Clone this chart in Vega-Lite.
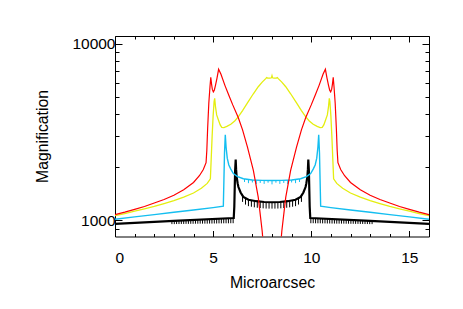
{
  "$schema": "https://vega.github.io/schema/vega-lite/v6.json",
  "width": 314,
  "height": 200.5,
  "autosize": {"type": "none"},
  "padding": {"left": 115, "top": 36, "right": 34, "bottom": 72.5},
  "background": "white",
  "config": {
    "view": {"stroke": "#000", "strokeWidth": 1},
    "axis": {
      "labelFont": "Liberation Sans",
      "titleFont": "Liberation Sans",
      "labelFontSize": 15.5,
      "titleFontSize": 15.8,
      "titleFontWeight": "normal",
      "labelColor": "#000",
      "titleColor": "#000",
      "tickColor": "#000",
      "domain": false,
      "grid": false
    }
  },
  "datasets": {
    "curves": [
      {"s":"red","x":0,"y":1080},{"s":"red","x":0.5,"y":1115},{"s":"red","x":1,"y":1155},{"s":"red","x":1.5,"y":1200},{"s":"red","x":2,"y":1255},{"s":"red","x":2.5,"y":1315},{"s":"red","x":3,"y":1390},{"s":"red","x":3.5,"y":1490},{"s":"red","x":4,"y":1640},{"s":"red","x":4.3,"y":1790},{"s":"red","x":4.5,"y":1940},{"s":"red","x":4.64,"y":2120},{"s":"red","x":4.68,"y":2500},{"s":"red","x":4.72,"y":3300},{"s":"red","x":4.78,"y":4600},{"s":"red","x":4.84,"y":5700},{"s":"red","x":4.88,"y":6450},{"s":"red","x":4.92,"y":5900},{"s":"red","x":4.96,"y":5500},{"s":"red","x":5.01,"y":5330},{"s":"red","x":5.06,"y":5450},{"s":"red","x":5.12,"y":5800},{"s":"red","x":5.2,"y":6400},{"s":"red","x":5.28,"y":7150},{"s":"red","x":5.4,"y":6700},{"s":"red","x":5.6,"y":5800},{"s":"red","x":5.8,"y":5100},{"s":"red","x":6.0,"y":4500},{"s":"red","x":6.28,"y":3820},{"s":"red","x":6.5,"y":3250},{"s":"red","x":6.75,"y":2600},{"s":"red","x":7.05,"y":1920},{"s":"red","x":7.3,"y":1350},{"s":"red","x":7.5,"y":870},{"s":"red","x":7.6,"y":640},{"s":"red","x":7.7,"y":420},{"s":"red","x":7.8,"y":250},{"s":"red","x":7.9,"y":150},{"s":"red","x":8,"y":120},
      {"s":"red","x":8.1,"y":150},{"s":"red","x":8.2,"y":250},{"s":"red","x":8.3,"y":420},{"s":"red","x":8.4,"y":640},{"s":"red","x":8.5,"y":870},{"s":"red","x":8.7,"y":1350},{"s":"red","x":8.95,"y":1920},{"s":"red","x":9.25,"y":2600},{"s":"red","x":9.5,"y":3250},{"s":"red","x":9.72,"y":3820},{"s":"red","x":10,"y":4500},{"s":"red","x":10.2,"y":5100},{"s":"red","x":10.4,"y":5800},{"s":"red","x":10.6,"y":6700},{"s":"red","x":10.72,"y":7150},{"s":"red","x":10.8,"y":6400},{"s":"red","x":10.88,"y":5800},{"s":"red","x":10.94,"y":5450},{"s":"red","x":10.99,"y":5330},{"s":"red","x":11.04,"y":5500},{"s":"red","x":11.08,"y":5900},{"s":"red","x":11.12,"y":6450},{"s":"red","x":11.16,"y":5700},{"s":"red","x":11.22,"y":4600},{"s":"red","x":11.28,"y":3300},{"s":"red","x":11.32,"y":2500},{"s":"red","x":11.36,"y":2120},{"s":"red","x":11.5,"y":1940},{"s":"red","x":11.7,"y":1790},{"s":"red","x":12,"y":1640},{"s":"red","x":12.5,"y":1490},{"s":"red","x":13,"y":1390},{"s":"red","x":13.5,"y":1315},{"s":"red","x":14,"y":1255},{"s":"red","x":14.5,"y":1200},{"s":"red","x":15,"y":1155},{"s":"red","x":15.5,"y":1115},{"s":"red","x":16,"y":1080},
      {"s":"yellow","x":0,"y":1064},{"s":"yellow","x":0.5,"y":1095},{"s":"yellow","x":1,"y":1128},{"s":"yellow","x":1.5,"y":1163},{"s":"yellow","x":2,"y":1200},{"s":"yellow","x":2.5,"y":1245},{"s":"yellow","x":3,"y":1295},{"s":"yellow","x":3.5,"y":1355},{"s":"yellow","x":4,"y":1430},{"s":"yellow","x":4.4,"y":1520},{"s":"yellow","x":4.7,"y":1620},{"s":"yellow","x":4.86,"y":1720},{"s":"yellow","x":4.9,"y":2200},{"s":"yellow","x":4.95,"y":3000},{"s":"yellow","x":5.0,"y":3900},{"s":"yellow","x":5.05,"y":4700},{"s":"yellow","x":5.08,"y":4900},{"s":"yellow","x":5.12,"y":4400},{"s":"yellow","x":5.18,"y":3950},{"s":"yellow","x":5.27,"y":3700},{"s":"yellow","x":5.36,"y":3470},{"s":"yellow","x":5.44,"y":3360},{"s":"yellow","x":5.55,"y":3350},{"s":"yellow","x":5.7,"y":3400},{"s":"yellow","x":5.9,"y":3500},{"s":"yellow","x":6.1,"y":3650},{"s":"yellow","x":6.28,"y":3850},{"s":"yellow","x":6.5,"y":4180},{"s":"yellow","x":6.75,"y":4620},{"s":"yellow","x":7.05,"y":5200},{"s":"yellow","x":7.3,"y":5700},{"s":"yellow","x":7.5,"y":6050},{"s":"yellow","x":7.68,"y":6330},{"s":"yellow","x":7.73,"y":6420},{"s":"yellow","x":7.78,"y":6380},{"s":"yellow","x":7.9,"y":6380},{"s":"yellow","x":7.97,"y":6400},{"s":"yellow","x":8,"y":6580},
      {"s":"yellow","x":8.03,"y":6400},{"s":"yellow","x":8.1,"y":6380},{"s":"yellow","x":8.22,"y":6380},{"s":"yellow","x":8.27,"y":6420},{"s":"yellow","x":8.32,"y":6330},{"s":"yellow","x":8.5,"y":6050},{"s":"yellow","x":8.7,"y":5700},{"s":"yellow","x":8.95,"y":5200},{"s":"yellow","x":9.25,"y":4620},{"s":"yellow","x":9.5,"y":4180},{"s":"yellow","x":9.72,"y":3850},{"s":"yellow","x":9.9,"y":3650},{"s":"yellow","x":10.1,"y":3500},{"s":"yellow","x":10.3,"y":3400},{"s":"yellow","x":10.45,"y":3350},{"s":"yellow","x":10.56,"y":3360},{"s":"yellow","x":10.64,"y":3470},{"s":"yellow","x":10.73,"y":3700},{"s":"yellow","x":10.82,"y":3950},{"s":"yellow","x":10.88,"y":4400},{"s":"yellow","x":10.92,"y":4900},{"s":"yellow","x":10.95,"y":4700},{"s":"yellow","x":11.0,"y":3900},{"s":"yellow","x":11.05,"y":3000},{"s":"yellow","x":11.1,"y":2200},{"s":"yellow","x":11.14,"y":1720},{"s":"yellow","x":11.3,"y":1620},{"s":"yellow","x":11.6,"y":1520},{"s":"yellow","x":12,"y":1430},{"s":"yellow","x":12.5,"y":1355},{"s":"yellow","x":13,"y":1295},{"s":"yellow","x":13.5,"y":1245},{"s":"yellow","x":14,"y":1200},{"s":"yellow","x":14.5,"y":1163},{"s":"yellow","x":15,"y":1128},{"s":"yellow","x":15.5,"y":1095},{"s":"yellow","x":16,"y":1064},
      {"s":"cyan","x":0,"y":1016},{"s":"cyan","x":1,"y":1048},{"s":"cyan","x":2,"y":1080},{"s":"cyan","x":3,"y":1113},{"s":"cyan","x":4,"y":1147},{"s":"cyan","x":5,"y":1183},{"s":"cyan","x":5.52,"y":1205},{"s":"cyan","x":5.55,"y":1700},{"s":"cyan","x":5.58,"y":2400},{"s":"cyan","x":5.62,"y":3050},{"s":"cyan","x":5.66,"y":2600},{"s":"cyan","x":5.72,"y":2250},{"s":"cyan","x":5.8,"y":2060},{"s":"cyan","x":5.9,"y":1950},{"s":"cyan","x":6.03,"y":1840},{"s":"cyan","x":6.25,"y":1770},{"s":"cyan","x":6.54,"y":1722},{"s":"cyan","x":7,"y":1695},{"s":"cyan","x":7.5,"y":1685},{"s":"cyan","x":8,"y":1683},
      {"s":"cyan","x":8.5,"y":1685},{"s":"cyan","x":9,"y":1695},{"s":"cyan","x":9.46,"y":1722},{"s":"cyan","x":9.75,"y":1770},{"s":"cyan","x":9.97,"y":1840},{"s":"cyan","x":10.1,"y":1950},{"s":"cyan","x":10.2,"y":2060},{"s":"cyan","x":10.28,"y":2250},{"s":"cyan","x":10.34,"y":2600},{"s":"cyan","x":10.38,"y":3050},{"s":"cyan","x":10.42,"y":2400},{"s":"cyan","x":10.45,"y":1700},{"s":"cyan","x":10.48,"y":1205},{"s":"cyan","x":11,"y":1183},{"s":"cyan","x":12,"y":1147},{"s":"cyan","x":13,"y":1113},{"s":"cyan","x":14,"y":1080},{"s":"cyan","x":15,"y":1048},{"s":"cyan","x":16,"y":1016},
      {"s":"black","x":0,"y":958},{"s":"black","x":3,"y":994},{"s":"black","x":6.05,"y":1032},{"s":"black","x":6.08,"y":1200},{"s":"black","x":6.12,"y":1900},{"s":"black","x":6.15,"y":2210},{"s":"black","x":6.17,"y":1950},{"s":"black","x":6.2,"y":1760},{"s":"black","x":6.25,"y":1620},{"s":"black","x":6.29,"y":1545},{"s":"black","x":6.4,"y":1440},{"s":"black","x":6.54,"y":1360},{"s":"black","x":6.8,"y":1310},{"s":"black","x":7.2,"y":1285},{"s":"black","x":7.6,"y":1272},{"s":"black","x":8,"y":1268},
      {"s":"black","x":8.4,"y":1272},{"s":"black","x":8.8,"y":1285},{"s":"black","x":9.2,"y":1310},{"s":"black","x":9.46,"y":1360},{"s":"black","x":9.6,"y":1440},{"s":"black","x":9.71,"y":1545},{"s":"black","x":9.75,"y":1620},{"s":"black","x":9.8,"y":1760},{"s":"black","x":9.83,"y":1950},{"s":"black","x":9.85,"y":2210},{"s":"black","x":9.88,"y":1900},{"s":"black","x":9.92,"y":1200},{"s":"black","x":9.95,"y":1032},{"s":"black","x":13,"y":994},{"s":"black","x":16,"y":958}
    ],
    "spikes": [
      {"s":"black","x":2.9,"y":992,"y2":954},{"s":"black","x":3.02,"y":993,"y2":954},{"s":"black","x":3.14,"y":995,"y2":955},{"s":"black","x":3.26,"y":996,"y2":955},{"s":"black","x":3.38,"y":998,"y2":956},{"s":"black","x":3.5,"y":999,"y2":956},{"s":"black","x":3.62,"y":1001,"y2":957},{"s":"black","x":3.74,"y":1002,"y2":957},{"s":"black","x":3.86,"y":1004,"y2":958},{"s":"black","x":3.98,"y":1005,"y2":958},{"s":"black","x":4.1,"y":1007,"y2":959},{"s":"black","x":4.22,"y":1008,"y2":959},{"s":"black","x":4.34,"y":1010,"y2":960},{"s":"black","x":4.46,"y":1011,"y2":960},{"s":"black","x":4.58,"y":1013,"y2":960},{"s":"black","x":4.7,"y":1014,"y2":960},{"s":"black","x":4.82,"y":1016,"y2":961},{"s":"black","x":4.94,"y":1017,"y2":961},{"s":"black","x":5.06,"y":1019,"y2":962},{"s":"black","x":5.18,"y":1020,"y2":962},{"s":"black","x":5.3,"y":1022,"y2":963},{"s":"black","x":5.42,"y":1024,"y2":963},{"s":"black","x":5.54,"y":1025,"y2":964},{"s":"black","x":5.66,"y":1027,"y2":964},{"s":"black","x":5.78,"y":1028,"y2":964},{"s":"black","x":5.9,"y":1030,"y2":965},{"s":"black","x":6.02,"y":1031,"y2":965},
      {"s":"black","x":13.1,"y":992,"y2":954},{"s":"black","x":12.98,"y":993,"y2":954},{"s":"black","x":12.86,"y":995,"y2":955},{"s":"black","x":12.74,"y":996,"y2":955},{"s":"black","x":12.62,"y":998,"y2":956},{"s":"black","x":12.5,"y":999,"y2":956},{"s":"black","x":12.38,"y":1001,"y2":957},{"s":"black","x":12.26,"y":1002,"y2":957},{"s":"black","x":12.14,"y":1004,"y2":958},{"s":"black","x":12.02,"y":1005,"y2":958},{"s":"black","x":11.9,"y":1007,"y2":959},{"s":"black","x":11.78,"y":1008,"y2":959},{"s":"black","x":11.66,"y":1010,"y2":960},{"s":"black","x":11.54,"y":1011,"y2":960},{"s":"black","x":11.42,"y":1013,"y2":960},{"s":"black","x":11.3,"y":1014,"y2":960},{"s":"black","x":11.18,"y":1016,"y2":961},{"s":"black","x":11.06,"y":1017,"y2":961},{"s":"black","x":10.94,"y":1019,"y2":962},{"s":"black","x":10.82,"y":1020,"y2":962},{"s":"black","x":10.7,"y":1022,"y2":963},{"s":"black","x":10.58,"y":1024,"y2":963},{"s":"black","x":10.46,"y":1025,"y2":964},{"s":"black","x":10.34,"y":1027,"y2":964},{"s":"black","x":10.22,"y":1028,"y2":964},{"s":"black","x":10.1,"y":1030,"y2":965},{"s":"black","x":9.98,"y":1031,"y2":965},
      {"s":"black","x":6.5,"y":1370,"y2":1274},{"s":"black","x":6.65,"y":1335,"y2":1230},{"s":"black","x":6.8,"y":1310,"y2":1205},{"s":"black","x":6.95,"y":1300,"y2":1196},{"s":"black","x":7.1,"y":1290,"y2":1187},{"s":"black","x":7.25,"y":1283,"y2":1180},{"s":"black","x":7.4,"y":1278,"y2":1176},{"s":"black","x":7.55,"y":1273,"y2":1171},{"s":"black","x":7.7,"y":1270,"y2":1168},{"s":"black","x":7.85,"y":1268,"y2":1167},{"s":"black","x":8.0,"y":1268,"y2":1167},{"s":"black","x":8.15,"y":1268,"y2":1167},{"s":"black","x":8.3,"y":1270,"y2":1168},{"s":"black","x":8.45,"y":1273,"y2":1171},{"s":"black","x":8.6,"y":1278,"y2":1176},{"s":"black","x":8.75,"y":1283,"y2":1180},{"s":"black","x":8.9,"y":1290,"y2":1187},{"s":"black","x":9.05,"y":1300,"y2":1196},{"s":"black","x":9.2,"y":1310,"y2":1205},{"s":"black","x":9.35,"y":1335,"y2":1230},{"s":"black","x":9.5,"y":1370,"y2":1274},
      {"s":"cyan","x":6.6,"y":1715,"y2":1650},{"s":"cyan","x":6.8,"y":1702,"y2":1625},{"s":"cyan","x":7.0,"y":1695,"y2":1640},{"s":"cyan","x":7.2,"y":1690,"y2":1605},{"s":"cyan","x":7.4,"y":1687,"y2":1630},{"s":"cyan","x":7.6,"y":1685,"y2":1610},{"s":"cyan","x":7.8,"y":1684,"y2":1635},{"s":"cyan","x":8.0,"y":1683,"y2":1600},{"s":"cyan","x":8.2,"y":1684,"y2":1635},{"s":"cyan","x":8.4,"y":1685,"y2":1610},{"s":"cyan","x":8.6,"y":1687,"y2":1630},{"s":"cyan","x":8.8,"y":1690,"y2":1605},{"s":"cyan","x":9.0,"y":1695,"y2":1640},{"s":"cyan","x":9.2,"y":1702,"y2":1625},{"s":"cyan","x":9.4,"y":1715,"y2":1650}
    ]
  },
  "layer": [
    {
      "data": {"name": "curves"},
      "transform": [{"filter": "datum.s == 'black'"}],
      "mark": {"type": "line", "color": "#000000", "strokeWidth": 2.2, "clip": true},
      "encoding": {
        "x": {"field": "x", "type": "quantitative", "scale": {"domain": [0, 16], "nice": false, "zero": false},
          "axis": {"orient": "bottom", "values": [0,1,2,3,4,5,6,7,8,9,10,11,12,13,14,15,16],
            "labelExpr": "datum.value % 5 == 0 && datum.value < 16 ? datum.label : ''",
            "tickSize": {"condition": {"test": "datum.value % 5 == 0", "value": -6}, "value": -3},
            "labelPadding": 20, "title": "Microarcsec", "titleBaseline": "alphabetic", "titleY": 51, "titleX": 157}},
        "y": {"field": "y", "type": "quantitative", "scale": {"type": "log", "domain": [812, 11025], "nice": false, "zero": false},
          "axis": {"orient": "left", "values": [900,1000,2000,3000,4000,5000,6000,7000,8000,9000,10000],
            "labelExpr": "datum.value == 1000 || datum.value == 10000 ? format(datum.value, 'd') : ''",
            "tickSize": {"condition": {"test": "datum.value == 1000 || datum.value == 10000", "value": -7}, "value": -4},
            "labelPadding": 7, "title": "Magnification", "titleBaseline": "alphabetic", "titleX": -68, "titleY": 100}}
      }
    },
    {
      "data": {"name": "spikes"},
      "transform": [{"filter": "datum.s == 'black'"}],
      "mark": {"type": "rule", "color": "#000000", "strokeWidth": 1, "clip": true},
      "encoding": {
        "x": {"field": "x", "type": "quantitative", "axis": null},
        "y": {"field": "y", "type": "quantitative", "axis": null},
        "y2": {"field": "y2"}
      }
    },
    {
      "data": {"name": "curves"},
      "transform": [{"filter": "datum.s == 'cyan'"}],
      "mark": {"type": "line", "color": "#14BEF0", "strokeWidth": 1.4, "clip": true},
      "encoding": {
        "x": {"field": "x", "type": "quantitative",
          "axis": {"orient": "top", "values": [0,1,2,3,4,5,6,7,8,9,10,11,12,13,14,15,16], "labels": false, "title": null,
            "tickSize": {"condition": {"test": "datum.value % 5 == 0", "value": -6}, "value": -3}}},
        "y": {"field": "y", "type": "quantitative",
          "axis": {"orient": "right", "values": [900,1000,2000,3000,4000,5000,6000,7000,8000,9000,10000], "labels": false, "title": null,
            "tickSize": {"condition": {"test": "datum.value == 1000 || datum.value == 10000", "value": -7}, "value": -4}}}
      }
    },
    {
      "data": {"name": "spikes"},
      "transform": [{"filter": "datum.s == 'cyan'"}],
      "mark": {"type": "rule", "color": "#14BEF0", "strokeWidth": 1, "clip": true},
      "encoding": {
        "x": {"field": "x", "type": "quantitative", "axis": null},
        "y": {"field": "y", "type": "quantitative", "axis": null},
        "y2": {"field": "y2"}
      }
    },
    {
      "data": {"name": "curves"},
      "transform": [{"filter": "datum.s == 'yellow'"}],
      "mark": {"type": "line", "color": "#E4EE10", "strokeWidth": 1.3, "clip": true},
      "encoding": {
        "x": {"field": "x", "type": "quantitative", "axis": null},
        "y": {"field": "y", "type": "quantitative", "axis": null}
      }
    },
    {
      "data": {"name": "curves"},
      "transform": [{"filter": "datum.s == 'red'"}],
      "mark": {"type": "line", "color": "#FF0000", "strokeWidth": 1.2, "clip": true},
      "encoding": {
        "x": {"field": "x", "type": "quantitative", "axis": null},
        "y": {"field": "y", "type": "quantitative", "axis": null}
      }
    }
  ],
  "resolve": {"axis": {"x": "independent", "y": "independent"}}
}
